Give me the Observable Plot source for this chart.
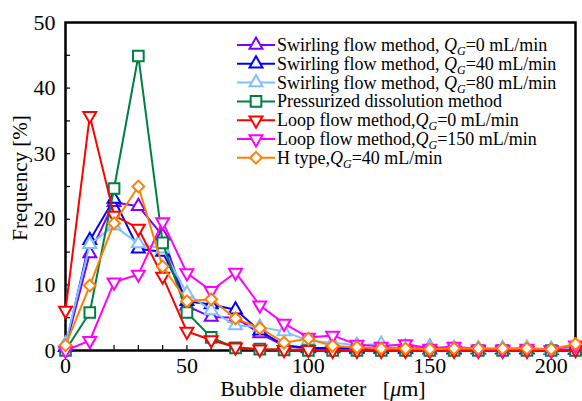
<!DOCTYPE html>
<html><head><meta charset="utf-8">
<script src="https://cdn.jsdelivr.net/npm/d3@7"></script>
<script src="https://cdn.jsdelivr.net/npm/@observablehq/plot@0.6"></script>
<style>
body{margin:0;background:#fff}
#chart svg, #chart svg text{font-family:"Liberation Serif","Times New Roman",serif}
</style>
</head><body><div id="chart"></div>
<script>
// ---- data ----
const diameters = [0,10,20,30,40,50,60,70,80,90,100,110,120,130,140,150,160,170,180,190,200,210];
const swirl0   = [0.5,14.8,22.6,22.0,17.5,6.8,5.1,5.0,2.6,0.7,0.3,0.3,0.2,0.2,0.2,0.1,0.1,0.1,0.1,0.1,0.1,0.1];
const swirl40  = [0.5,16.8,23.1,15.5,15.0,7.5,7.0,6.2,3.0,0.8,0.4,0.4,0.3,0.3,0.3,0.5,0.2,0.2,0.2,0.2,0.1,0.1];
const swirl80  = [1.0,16.2,19.0,16.3,15.5,8.7,6.1,3.8,3.6,2.9,1.5,1.2,0.8,1.0,0.6,0.5,0.4,0.3,0.3,0.4,0.2,0.3];
const pressur  = [0.0,5.8,24.7,44.9,16.4,5.8,2.0,0.4,0.2,0.1,0.0,0.0,0.0,0.0,0.0,0.0,0.0,0.0,0.0,0.0,0.0,0.0];
const loop0    = [6.1,35.8,20.6,18.6,11.3,2.9,1.6,0.5,0.2,0.1,0.1,0.0,0.0,0.0,0.0,0.0,0.0,0.0,0.0,0.0,0.0,0.1];
const loop150  = [0.0,1.5,10.4,11.6,19.6,11.8,9.1,11.9,6.9,4.1,2.0,2.3,0.9,0.6,1.0,0.3,0.6,0.2,0.2,0.3,0.1,0.8];
const htype    = [0.8,9.9,19.4,25.0,12.8,7.5,7.8,4.9,3.4,1.2,1.8,0.7,0.5,0.3,0.3,0.2,0.3,0.3,0.3,0.3,0.2,1.0];

const seriesNames = ["Swirling flow method, Q_G=0 mL/min","Swirling flow method, Q_G=40 mL/min","Swirling flow method, Q_G=80 mL/min","Pressurized dissolution method","Loop flow method,Q_G=0 mL/min","Loop flow method,Q_G=150 mL/min","H type,Q_G=40 mL/min"];
const seriesValues = [swirl0, swirl40, swirl80, pressur, loop0, loop150, htype];
const seriesColors = ["#8000ff","#0000ff","#80c0ff","#008040","#ff0000","#ff00ff","#ff8000"];
const seriesShapes = ["up","up","up","square","down","down","diamond"];

const xTickLabels = [0,50,100,150,200];
const xMinorTicks = [10,20,30,40,50,60,70,80,90,100,110,120,130,140,150,160,170,180,190,200];
const yTickLabels = [0,10,20,30,40,50];
const yMinorTicks = [5,10,15,20,25,30,35,40,45];

const FONT = "Liberation Serif, Times New Roman, serif";

// ---- symbols ----
const triDown = {draw(ctx, size){const y=-Math.sqrt(size/(Math.sqrt(3)*3));ctx.moveTo(0,-y*2);ctx.lineTo(-Math.sqrt(3)*y,y);ctx.lineTo(Math.sqrt(3)*y,y);ctx.closePath();}};
const shapeInfo = {
  up:{symbol:d3.symbolTriangle, r:4.8},
  down:{symbol:triDown, r:4.8},
  square:{symbol:d3.symbolSquare, r:6.0},
  diamond:{symbol:d3.symbolDiamond2, r:5.3}
};

const rows = [];
seriesNames.forEach((name,s)=>{
  diameters.forEach((d,i)=>rows.push({series:s, x:d, y:seriesValues[s][i]}));
});

const W=582,H=401, mL=65, mR=7, mT=22, mB=51;
const marks = [
  Plot.frame({stroke:"black", strokeWidth:2.5}),
  Plot.ruleX(xMinorTicks, {x:d=>d, y1:0, y2:0, insetTop:-5, stroke:"black", strokeWidth:1.2}),
  Plot.ruleY(yMinorTicks, {y:d=>d, x1:0, x2:0, insetRight:-5, stroke:"black", strokeWidth:1.2}),
  Plot.axisX(xTickLabels, {tickSize:0, tickPadding:7, fontSize:22, fontFamily:FONT, label:null}),
  Plot.axisY(yTickLabels, {tickSize:0, tickPadding:10, fontSize:22, fontFamily:FONT, label:null})
];
seriesNames.forEach((name,s)=>{
  const data = rows.filter(r=>r.series===s);
  const sh = shapeInfo[seriesShapes[s]];
  marks.push(Plot.line(data,{x:"x",y:"y",stroke:seriesColors[s],strokeWidth:2}));
  marks.push(Plot.dot(data,{x:"x",y:"y",symbol:sh.symbol,r:sh.r,stroke:seriesColors[s],fill:"white",strokeWidth:2}));
});

const svg = Plot.plot({
  width:W, height:H, marginLeft:mL, marginRight:mR, marginTop:mT, marginBottom:mB,
  x:{domain:[0,210]}, y:{domain:[0,50]},
  style:{fontFamily:FONT, fontSize:"22px", color:"black", background:"white", overflow:"visible"},
  marks
});
document.getElementById("chart").appendChild(svg);

// ---- axis titles ----
const s = d3.select(svg);
const xt = s.append("text").attr("x",323).attr("y",396).attr("text-anchor","middle")
  .attr("font-family",FONT).attr("font-size",22).attr("fill","black").style("white-space","pre");
xt.append("tspan").text("Bubble diameter   [");
xt.append("tspan").attr("font-style","italic").text("μ");
xt.append("tspan").text("m]");
s.append("text").attr("transform","translate(27,178) rotate(-90)").attr("text-anchor","middle")
  .attr("font-family",FONT).attr("font-size",21).attr("fill","black").text("Frequency [%]");

// ---- legend ----
const lg = s.append("g");
const lx0=237, lx1=275, tx=277, by0=51, dy=18.8;
seriesNames.forEach((name,i)=>{
  const by = by0 + i*dy, ly = by-6;
  const sh = shapeInfo[seriesShapes[i]];
  lg.append("line").attr("x1",lx0).attr("x2",lx1).attr("y1",ly).attr("y2",ly)
    .attr("stroke",seriesColors[i]).attr("stroke-width",2);
  lg.append("path").attr("d", d3.symbol(sh.symbol, Math.PI*sh.r*sh.r)())
    .attr("transform",`translate(${(lx0+lx1)/2},${ly})`)
    .attr("fill","white").attr("stroke",seriesColors[i]).attr("stroke-width",2);
  const t = lg.append("text").attr("x",tx).attr("y",by).attr("text-anchor","start")
    .attr("font-family",FONT).attr("font-size",18).attr("fill","black").style("white-space","pre");
  const k = name.indexOf("Q_G");
  if (k<0) { t.text(name); }
  else {
    t.append("tspan").text(name.slice(0,k));
    t.append("tspan").attr("font-style","italic").text("Q");
    t.append("tspan").attr("font-style","italic").attr("font-size",12).attr("dy",4).text("G");
    t.append("tspan").attr("dy",-4).text(name.slice(k+3));
  }
});
</script>
</body></html>
